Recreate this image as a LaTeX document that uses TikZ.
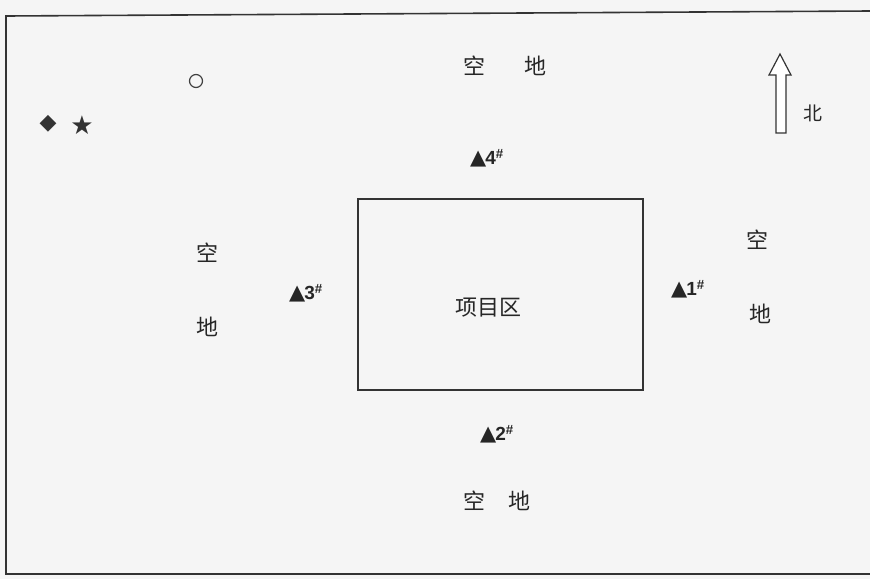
\documentclass[tikz,border=0pt]{standalone}
\usepackage{fontspec}
\newfontfamily\cjk{Noto Sans CJK SC}
\newfontfamily\symf{DejaVu Sans}
\newfontfamily\numf{Liberation Sans}
\newcommand{\tri}{{\symf\fontsize{21}{21}\selectfont ▲}}
\begin{document}
\begin{tikzpicture}[x=1pt,y=-1pt,
  lbl/.style={font=\cjk\fontsize{22}{22}\selectfont, text=black!85, inner sep=0pt},
  pt/.style={font=\numf\bfseries\fontsize{19}{19}\selectfont, text=black!85, inner sep=0pt},
  frameline/.style={draw=black!80, line width=1.6pt},
  boxline/.style={draw=black!80, line width=1.4pt}]
\useasboundingbox[fill=black!4] (0,0) rectangle (870,579);
% outer frame
\coordinate (fTR) at (870,11);
\coordinate (fTL) at (6,16);
\coordinate (fBL) at (6,574);
\coordinate (fBR) at (870,574);
\draw[frameline] (fTR) -- (fTL) -- (fBL) -- (fBR);
% project area
\node[boxline, minimum width=285pt, minimum height=191pt, inner sep=0pt] (proj) at (500.5,294.5) {};
\node[lbl] (projlbl) at (488,308) {项目区};
% empty land labels
\node[lbl] (nk) at (474,66) {空};
\node[lbl] (nd) at (535,66) {地};
\node[lbl] (wk) at (207,253) {空};
\node[lbl] (wd) at (207,327) {地};
\node[lbl] (ek) at (757,240) {空};
\node[lbl] (ed) at (760,314) {地};
\node[lbl] (sk) at (474,501) {空};
\node[lbl] (sd) at (519,501) {地};
% monitoring points
\node[pt] (p4) at (487,158) {\tri\kern-1pt 4\textsuperscript{\#}};
\node[pt] (p3) at (306,293) {\tri\kern-1pt 3\textsuperscript{\#}};
\node[pt] (p1) at (688,289) {\tri\kern-1pt 1\textsuperscript{\#}};
\node[pt] (p2) at (497,434) {\tri\kern-1pt 2\textsuperscript{\#}};
% legend symbols
\node[circle, draw=black!75, line width=1.2pt, minimum size=13pt, inner sep=0pt] (circ) at (196,81) {};
\node[font=\symf\fontsize{22}{22}\selectfont, text=black!80, inner sep=0pt] (dia) at (48,124) {◆};
\node[font=\symf\fontsize{26}{26}\selectfont, text=black!80, inner sep=0pt] (star) at (82,125) {★};
% north arrow
\draw[black!80, line width=1.2pt, line join=miter, fill=white]
  (776,133) -- (776,75) -- (769,75) -- (780,54) -- (791,75) -- (786,75) -- (786,133) -- cycle;
\node[font=\cjk\fontsize{19}{19}\selectfont, text=black!85, inner sep=0pt] (north) at (813,113) {北};
\end{tikzpicture}
\end{document}
